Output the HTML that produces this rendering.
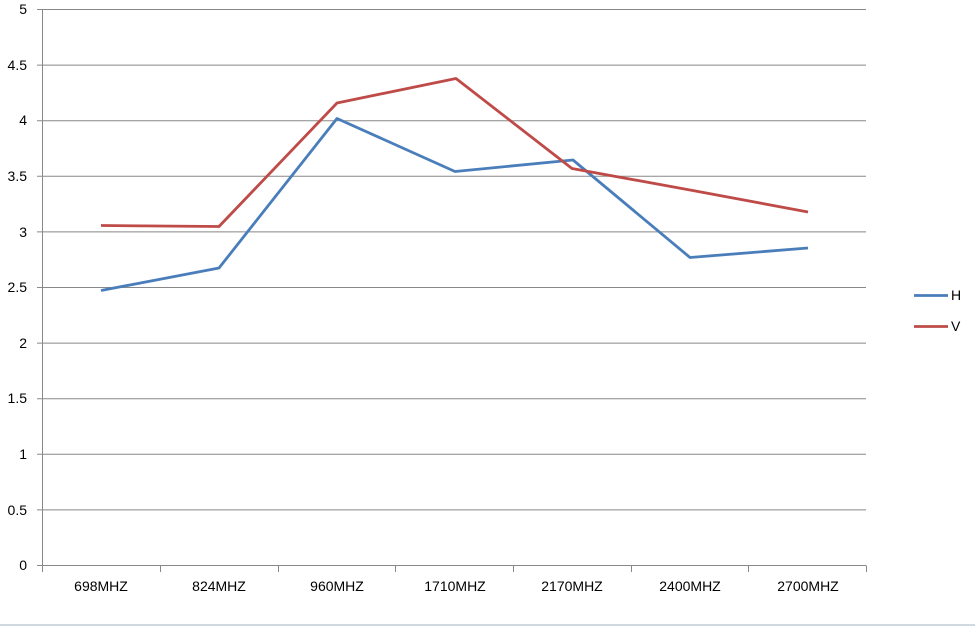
<!DOCTYPE html>
<html><head><meta charset="utf-8"><style>
html,body{margin:0;padding:0;background:#fff;}
svg{display:block;font-family:"Liberation Sans",sans-serif;}
</style></head><body>
<svg width="975" height="627" viewBox="0 0 975 627" xmlns="http://www.w3.org/2000/svg">
<rect width="975" height="627" fill="#fff"/>
<g stroke="#888" stroke-width="1">
<line x1="37" y1="9.5" x2="866" y2="9.5"/>
<line x1="37" y1="65.1" x2="866" y2="65.1"/>
<line x1="37" y1="120.7" x2="866" y2="120.7"/>
<line x1="37" y1="176.3" x2="866" y2="176.3"/>
<line x1="37" y1="231.9" x2="866" y2="231.9"/>
<line x1="37" y1="287.5" x2="866" y2="287.5"/>
<line x1="37" y1="343.1" x2="866" y2="343.1"/>
<line x1="37" y1="398.7" x2="866" y2="398.7"/>
<line x1="37" y1="454.3" x2="866" y2="454.3"/>
<line x1="37" y1="509.9" x2="866" y2="509.9"/>
<line x1="37" y1="565.5" x2="866" y2="565.5"/>
<line x1="42.5" y1="9.5" x2="42.5" y2="565.5"/>
<line x1="42.5" y1="565.5" x2="42.5" y2="572"/>
<line x1="160.5" y1="565.5" x2="160.5" y2="572"/>
<line x1="278.5" y1="565.5" x2="278.5" y2="572"/>
<line x1="395.5" y1="565.5" x2="395.5" y2="572"/>
<line x1="513.5" y1="565.5" x2="513.5" y2="572"/>
<line x1="631.5" y1="565.5" x2="631.5" y2="572"/>
<line x1="748.5" y1="565.5" x2="748.5" y2="572"/>
<line x1="866.5" y1="565.5" x2="866.5" y2="572"/>
</g>
<g font-size="14" fill="#000" text-anchor="end">
<text x="27" y="14">5</text>
<text x="27" y="70">4.5</text>
<text x="27" y="125">4</text>
<text x="27" y="181">3.5</text>
<text x="27" y="237">3</text>
<text x="27" y="292">2.5</text>
<text x="27" y="348">2</text>
<text x="27" y="403">1.5</text>
<text x="27" y="459">1</text>
<text x="27" y="515">0.5</text>
<text x="27" y="570">0</text>
</g>
<g font-size="14" fill="#000" text-anchor="middle">
<text x="101" y="591">698MHZ</text>
<text x="219" y="591">824MHZ</text>
<text x="337" y="591">960MHZ</text>
<text x="455" y="591">1710MHZ</text>
<text x="572" y="591">2170MHZ</text>
<text x="690" y="591">2400MHZ</text>
<text x="808" y="591">2700MHZ</text>
</g>
<polyline fill="none" stroke="#4a7ebb" stroke-width="2.8" stroke-linejoin="round" points="101,290.5 219,268 337,118.5 455,171.5 573,160 690,257.5 808,248"/>
<polyline fill="none" stroke="#be4b48" stroke-width="2.8" stroke-linejoin="round" points="101,225.5 219,226.5 337,103 456,78.5 572,168.5 690,190 808,212"/>
<line x1="914" y1="295.5" x2="948" y2="295.5" stroke="#4a7ebb" stroke-width="2.8"/>
<line x1="914" y1="326.5" x2="948" y2="326.5" stroke="#be4b48" stroke-width="2.8"/>
<text x="951" y="300" font-size="14">H</text>
<text x="951" y="331" font-size="14">V</text>
<line x1="0" y1="625" x2="975" y2="625" stroke="#d0d8e0" stroke-width="2"/>
</svg>
</body></html>
